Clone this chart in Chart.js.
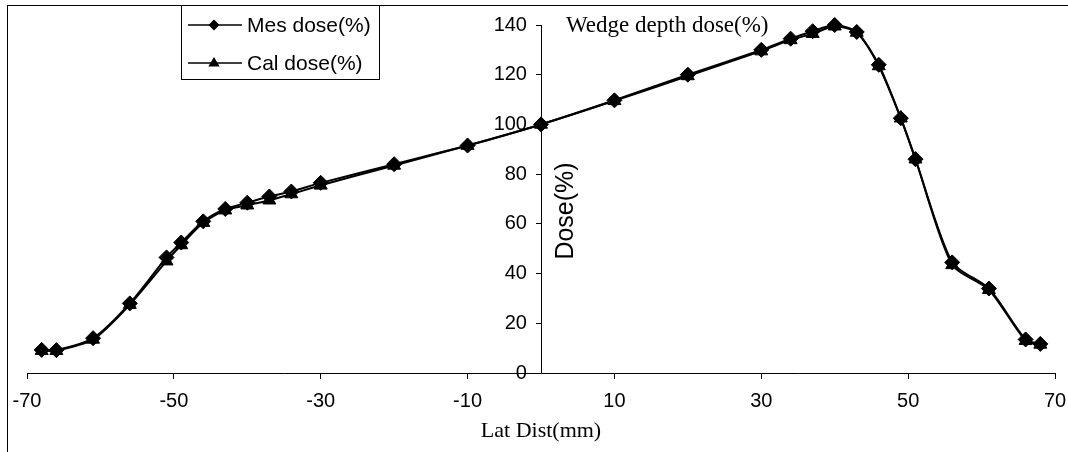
<!DOCTYPE html>
<html>
<head>
<meta charset="utf-8">
<script src="https://cdn.jsdelivr.net/npm/chart.js@4"></script>
<style>
  html, body { margin: 0; padding: 0; background: #fff; overflow: hidden; }
</style>
</head>
<body>
<canvas id="dosechart" width="1090" height="452"></canvas>
<script>
// lateral distance (mm) and the two dose profiles (%)
var latDist = [-68, -66, -61, -56, -51, -49, -46, -43, -40, -37, -34, -30, -20, -10, 0, 10, 20, 30, 34, 37, 40, 43, 46, 49, 51, 56, 61, 66, 68];
var mesDose = [9.3, 9.2, 14, 28, 46.5, 52.5, 61, 66, 68.5, 71, 73, 76.5, 84, 91.5, 100, 109.7, 120, 130, 134.5, 137.5, 140, 137.2, 124, 102.5, 86, 44.5, 34, 13.5, 11.7];
var calDose = [9, 9, 13.5, 27.5, 45, 51.5, 60.5, 65.5, 67.5, 69.5, 72, 75.5, 83.5, 91.5, 100, 109.5, 119.5, 129.5, 134, 136.5, 139.5, 137, 123.5, 102.5, 86, 43.5, 33.5, 13, 11.5];
var xTicks = [-70, -50, -30, -10, 10, 30, 50, 70];
var yTicks = [0, 20, 40, 60, 80, 100, 120, 140];
var seriesNames = ['Mes dose(%)', 'Cal dose(%)'];

var sans = "'Liberation Sans', Arial, sans-serif";
var serif = "'Liberation Serif', 'Times New Roman', serif";

function toPoints(ys) {
  return latDist.map(function (x, i) { return {x: x, y: ys[i]}; });
}

function diamond(ctx, x, y, r) {
  ctx.beginPath();
  ctx.moveTo(x, y - r); ctx.lineTo(x + r, y); ctx.lineTo(x, y + r); ctx.lineTo(x - r, y);
  ctx.closePath(); ctx.fill();
}
function triangle(ctx, x, y, r) {
  ctx.beginPath();
  ctx.moveTo(x, y - r); ctx.lineTo(x + r * 0.95, y + r * 0.6); ctx.lineTo(x - r * 0.95, y + r * 0.6);
  ctx.closePath(); ctx.fill();
}

// frame, legend and free texts
var extras = {
  id: 'extras',
  beforeDraw: function (chart) {
    var ctx = chart.ctx;
    ctx.save();
    ctx.fillStyle = '#fff';
    ctx.fillRect(0, 0, chart.width, chart.height);
    ctx.strokeStyle = '#000';
    ctx.lineWidth = 1;
    ctx.strokeRect(7.5, 5.5, 2000, 1000);
    ctx.restore();
  },
  afterDraw: function (chart) {
    var ctx = chart.ctx;
    ctx.save();
    // legend
    ctx.fillStyle = '#fff';
    ctx.fillRect(181, 5, 199, 74);
    ctx.strokeStyle = '#000';
    ctx.lineWidth = 1;
    ctx.strokeRect(181.5, 5.5, 198, 74);
    var rows = [25, 63];
    ctx.fillStyle = '#000';
    ctx.font = '21px ' + sans;
    ctx.textBaseline = 'middle';
    ctx.textAlign = 'left';
    rows.forEach(function (y, i) {
      ctx.lineWidth = 1.5;
      ctx.beginPath();
      ctx.moveTo(188, y); ctx.lineTo(242, y);
      ctx.stroke();
      if (i === 0) diamond(ctx, 214, y, 5.5); else triangle(ctx, 214, y, 6);
      ctx.fillText(chart.data.datasets[i].label, 247, y + 1);
    });
    // title inside the plot
    ctx.font = '23px ' + serif;
    ctx.fillText('Wedge depth dose(%)', 566, 26);
    // y axis title, right of the axis
    ctx.translate(566, 211);
    ctx.rotate(-Math.PI / 2);
    ctx.textAlign = 'center';
    ctx.font = '25px ' + sans;
    ctx.fillText('Dose(%)', 0, 0);
    ctx.restore();
  }
};

var config = {
  type: 'line',
  data: {
    datasets: [{
      label: seriesNames[0],
      data: toPoints(mesDose),
      borderColor: '#000',
      backgroundColor: '#000',
      borderWidth: 2,
      pointStyle: 'rectRot',
      pointRadius: 7.5,
      pointBorderWidth: 1,
      tension: 0.25,
      clip: false
    }, {
      label: seriesNames[1],
      data: toPoints(calDose),
      borderColor: '#000',
      backgroundColor: '#000',
      borderWidth: 2,
      pointStyle: 'triangle',
      pointRadius: 7.5,
      pointBorderWidth: 1,
      tension: 0.25,
      clip: false
    }]
  },
  options: {
    responsive: false,
    animation: false,
    devicePixelRatio: 1,
    layout: {padding: {left: 27, right: 35, top: 25, bottom: 0}},
    plugins: {legend: {display: false}, tooltip: {enabled: false}},
    scales: {
      x: {
        type: 'linear',
        position: 'bottom',
        min: -70,
        max: 70,
        afterBuildTicks: function (s) { s.ticks = xTicks.map(function (v) { return {value: v}; }); },
        afterFit: function (s) { s.height = 79; },
        grid: {drawOnChartArea: false, drawTicks: true, tickLength: 6, color: '#000'},
        border: {color: '#000', width: 1},
        ticks: {color: '#000', font: {family: sans, size: 20}, padding: 10, maxRotation: 0, autoSkip: false},
        title: {display: true, text: 'Lat Dist(mm)', color: '#000', font: {family: serif, size: 22}, padding: {top: 0, bottom: 8}}
      },
      y: {
        type: 'linear',
        position: {x: 0},
        min: 0,
        max: 140,
        afterBuildTicks: function (s) { s.ticks = yTicks.map(function (v) { return {value: v}; }); },
        grid: {drawOnChartArea: false, drawTicks: true, tickLength: 5, color: '#000'},
        border: {color: '#000', width: 1},
        // labels of a centred axis sit flush on the line, so keep a gap with spaces
        ticks: {color: '#000', font: {family: sans, size: 20}, callback: function (v) { return v + '\u2002\u2009'; }}
      }
    }
  },
  plugins: [extras]
};

var chart = new Chart(document.getElementById('dosechart'), config);
</script>
</body>
</html>
